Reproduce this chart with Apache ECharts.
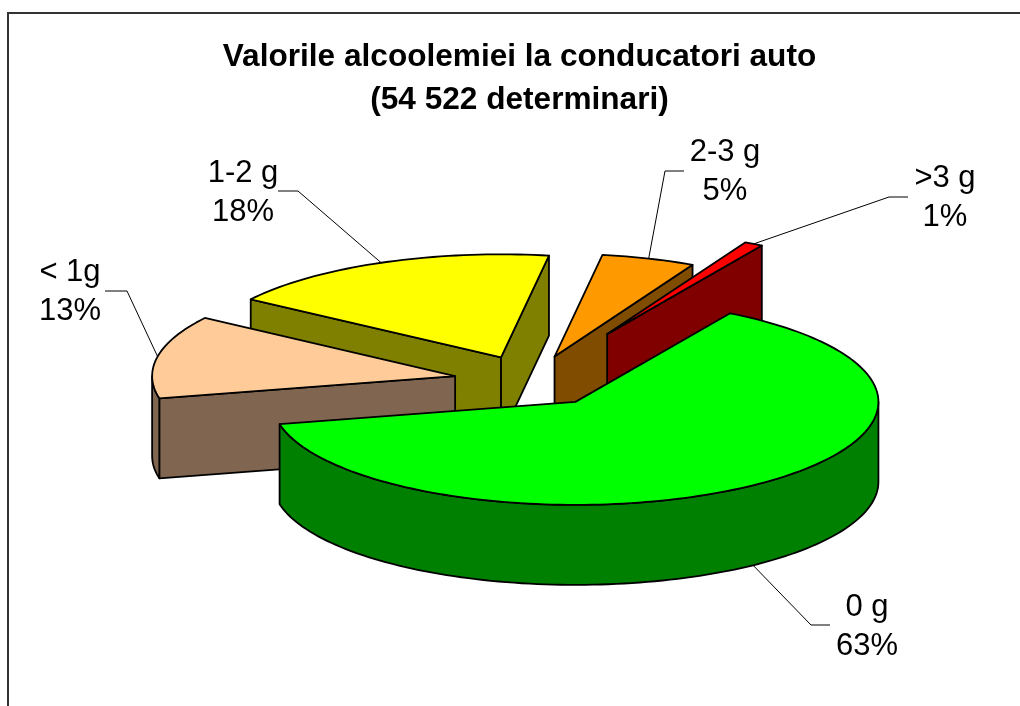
<!DOCTYPE html>
<html>
<head>
<meta charset="utf-8">
<style>html,body{margin:0;padding:0;background:#fff}#chart{width:1020px;height:706px}</style>
<script src="https://cdn.jsdelivr.net/npm/echarts@6/dist/echarts.min.js"></script>
</head>
<body>
<div id="chart"></div>
<script>
// ---- data ----
var titleLines = ['Valorile alcoolemiei la conducatori auto', '(54 522 determinari)'];
var categories = ['0 g', '< 1g', '1-2 g', '2-3 g', '>3 g'];
var values = [63, 13, 18, 5, 1];

// ---- styling, independent of the data ----
var topColors  = ['#00FF00', '#FFCC99', '#FFFF00', '#FF9900', '#FF0000'];
var sideColors = ['#008000', '#806650', '#808000', '#804C00', '#800000'];
var explode    = [0.25, 0.255, 0.25, 0.25, 0.52];
var paintRank  = [5, 4, 2, 1, 3];
var labelBox = [
  {x: 867, y: 627, elbowX: 811, elbowY: 625, endX: 830},
  {x: 70,  y: 292, elbowX: 127, elbowY: 291, endX: 105},
  {x: 243, y: 193, elbowX: 298, elbowY: 191, endX: 278},
  {x: 725, y: 172, elbowX: 665, elbowY: 171, endX: 684},
  {x: 945, y: 198, elbowX: 889, elbowY: 197, endX: 908}
];
var pie = {cx: 531, cy: 381, rx: 303, ry: 103, depth: 80, startDeg: 30.7};
var LABEL_FONT = '31px "Liberation Sans", Arial, sans-serif';

var total = values.reduce(function (a, b) { return a + b; }, 0);
var rad = Math.PI / 180;

function sliceAngles(index) {
  var before = 0;
  for (var i = 0; i < index; i++) before += values[i];
  var a0 = pie.startDeg + before / total * 360;
  return [a0, a0 + values[index] / total * 360];
}
function rim(apex, deg, drop) {
  return [apex[0] + pie.rx * Math.sin(deg * rad), apex[1] - pie.ry * Math.cos(deg * rad) + (drop || 0)];
}
function arc(apex, from, to, drop) {
  var n = Math.max(2, Math.ceil(Math.abs(to - from) / 1.5)), pts = [];
  for (var i = 0; i <= n; i++) pts.push(rim(apex, from + (to - from) * i / n, drop));
  return pts;
}
function poly(points, fill, z2) {
  return {
    type: 'polygon', z2: z2,
    shape: {points: points},
    style: {fill: fill, stroke: '#000', lineWidth: 1.8, lineJoin: 'round'}
  };
}
function face(apex, deg, fill, z2) {
  var p = rim(apex, deg);
  return poly([apex, p, [p[0], p[1] + pie.depth], [apex[0], apex[1] + pie.depth]], fill, z2);
}

function renderSlice(params, api) {
  var i = params.dataIndex;
  var value = api.value(0);
  var ang = sliceAngles(i);
  var a0 = ang[0], a1 = a0 + value / total * 360;
  var mid = (a0 + a1) / 2;
  var base = paintRank[i] * 10;
  var e = explode[i];
  var apex = [
    pie.cx + e * pie.rx * Math.sin(mid * rad),
    pie.cy - e * pie.ry * Math.cos(mid * rad)
  ];
  var kids = [];

  // radial faces that turn toward the viewer
  if (Math.sin(a0 * rad) < 0) kids.push(face(apex, a0, sideColors[i], base + 1));
  if (Math.sin(a1 * rad) > 0) kids.push(face(apex, a1, sideColors[i], base + 1));

  // outer curved wall, only where it faces front (90..270 deg)
  var w0 = Math.max(a0, 90), w1 = Math.min(a1, 270);
  if (w1 > w0) {
    var upper = arc(apex, w0, w1, 0);
    var lower = arc(apex, w0, w1, pie.depth).reverse();
    kids.push(poly(upper.concat(lower), sideColors[i], base + 2));
  }

  // top surface
  kids.push(poly([apex].concat(arc(apex, a0, a1, 0)), topColors[i], base + 3));

  // leader line, anchored on the rim at the slice's middle angle
  var front = Math.cos(mid * rad) < 0;
  var anchor = rim(apex, mid, front ? pie.depth : 0);
  var lb = labelBox[i];
  kids.push({
    type: 'polyline', z2: 100,
    shape: {points: [anchor, [lb.elbowX, lb.elbowY], [lb.endX, lb.elbowY]]},
    style: {fill: null, stroke: '#000', lineWidth: 1}
  });
  // label
  kids.push({
    type: 'text', z2: 101,
    style: {
      text: categories[i] + '\n' + value + '%',
      x: lb.x, y: lb.y, align: 'center', verticalAlign: 'middle',
      font: LABEL_FONT, fill: '#000', lineHeight: 39
    }
  });
  return {type: 'group', children: kids};
}

var chart = echarts.init(document.getElementById('chart'), null, {renderer: 'canvas'});
chart.setOption({
  animation: false,
  backgroundColor: '#fff',
  title: {
    text: titleLines.join('\n'),
    left: 514.5, top: 31, textAlign: 'center',
    textStyle: {
      fontFamily: '"Liberation Sans", Arial, sans-serif',
      fontWeight: 'bold', fontSize: 31.6, lineHeight: 43, color: '#000'
    }
  },
  graphic: [
    {type: 'polyline', silent: true, z: 0,
     shape: {points: [[8, 706], [8, 13], [1020, 13]]},
     style: {fill: null, stroke: '#333', lineWidth: 2}}
  ],
  series: [{
    type: 'custom',
    coordinateSystem: 'none',
    silent: true,
    renderItem: renderSlice,
    data: values.map(function (v) { return [v]; })
  }]
});
</script>
</body>
</html>
